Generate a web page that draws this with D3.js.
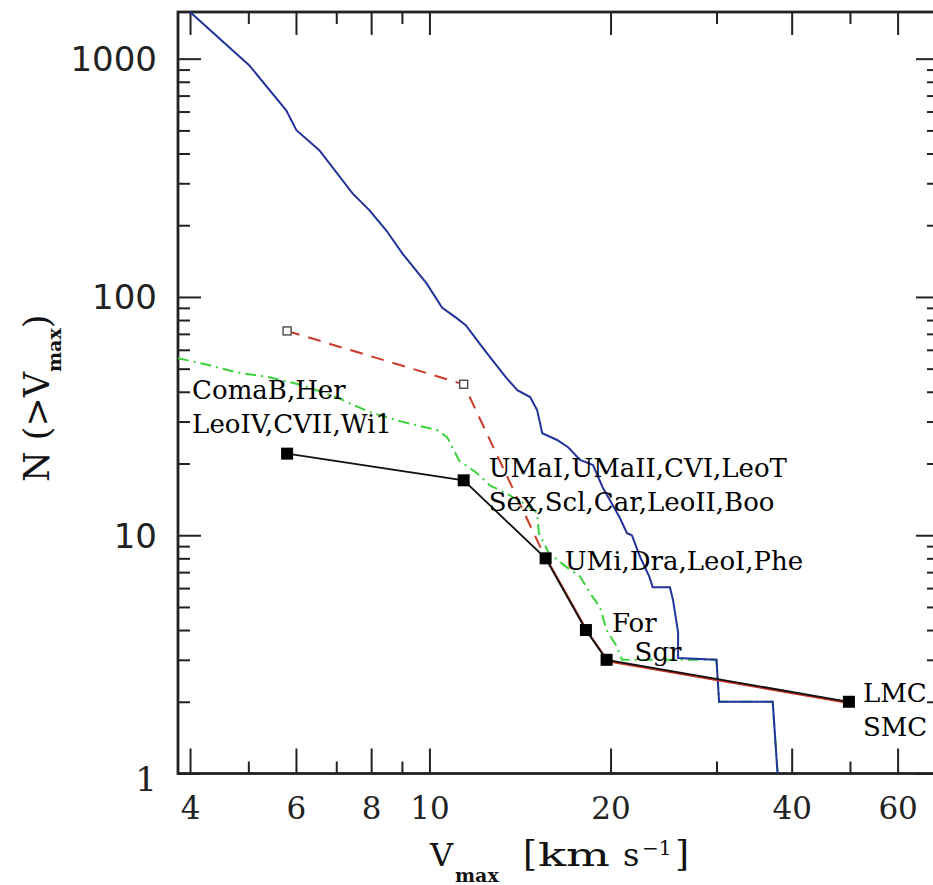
<!DOCTYPE html>
<html>
<head>
<meta charset="utf-8">
<script src="https://cdn.jsdelivr.net/npm/d3@7"></script>
<style>
  body { margin: 0; background: #fff; }
  svg { display: block; }
  .axis path { display: none; }
  .axis line { stroke: #222; stroke-width: 2; }
  .axis text { fill: #222; }
</style>
</head>
<body>
<script>
// simulated subhalo counts (blue, solid)
var simV = [4.0, 5.02, 5.78, 6.01, 6.56, 7.45, 7.95, 8.48, 9.02, 9.89, 10.5, 11.1, 11.5, 12.1, 12.6,
            13.4, 14.0, 14.7, 15.1, 15.4, 16.3, 17.0, 17.8, 18.7, 19.4, 20.7, 21.3, 21.7, 22.4, 23.2,
            23.5, 25.1, 25.4, 25.9, 25.9, 30.0, 30.3, 37.2, 37.9];
var simN = [1570, 937, 607, 501, 413, 272, 231, 190, 152, 114, 90, 81.5, 76, 64, 56,
            46, 40.6, 38, 33.5, 26.8, 25.1, 23.4, 20.7, 19.7, 15.9, 11.9, 10.2, 10, 8.1, 6.7,
            6.05, 6.05, 5.35, 3.9, 3.05, 3.0, 2.0, 2.0, 1.0];

// subhalos after selection (green, dash-dot)
var selV = [3.82, 4.31, 4.77, 5.42, 6.15, 7.0, 7.94, 9.02, 10.3, 10.7, 11.2, 12.0, 12.6, 13.4,
            14.1, 14.7, 15.1, 15.2, 15.8, 16.9, 17.8, 18.5, 19.2, 19.7, 20.5, 20.9, 30.0, 30.3, 37.2, 37.9];
var selN = [55.3, 51.7, 48.3, 46.0, 42.6, 38.0, 32.9, 29.9, 27.6, 25.8, 20.6, 18.2, 16.2, 15.0,
            14.0, 13.1, 12.4, 10.2, 8.4, 7.35, 6.7, 5.7, 5.0, 4.0, 3.4, 3.0, 3.0, 2.0, 2.0, 1.0];

// observed satellites (black squares) and corrected counts (red, dashed)
var obsV = [5.8, 11.4, 15.6, 18.2, 19.7, 49.8];
var obsN = [22, 17, 8, 4, 3, 2];
var corrN = [72, 43, 8, 4, 3, 2];
var obsLabels = [
    ["ComaB,Her", "LeoIV,CVII,Wi1"],
    ["UMaI,UMaII,CVI,LeoT", "Sex,Scl,Car,LeoII,Boo"],
    ["UMi,Dra,LeoI,Phe"],
    ["For"],
    ["Sgr"],
    ["LMC", "SMC"]
];

var xMajor = [4, 6, 8, 10, 20, 40, 60];
var xMinor = [5, 7, 9, 30, 50];
var yMajor = [1, 10, 100, 1000];

var width = 933, height = 885;
var x0 = 178, x1 = 939, y0 = 12, y1 = 773.5;

var svg = d3.select("body").append("svg")
    .attr("width", width)
    .attr("height", height);

var x = d3.scaleLog().domain([3.82, 70.3]).range([x0, x1]);
var y = d3.scaleLog().domain([1, 1570]).range([y1, y0]);

var yMinor = [];
[1, 10, 100, 1000].forEach(function(d) {
    for (var k = 2; k <= 9; k++) yMinor.push(d * k);
});
yMinor = yMinor.filter(function(d) { return d < 1570; });

svg.append("defs").append("clipPath").attr("id", "clip")
  .append("rect")
    .attr("x", x0).attr("y", y0)
    .attr("width", x1 - x0).attr("height", y1 - y0);

// axes: ticks point inward
function axisGroup(axis, tx, ty) {
    return svg.append("g")
        .attr("class", "axis")
        .attr("transform", "translate(" + tx + "," + ty + ")")
        .call(axis);
}

axisGroup(d3.axisBottom(x).tickValues(xMajor).tickSize(-25).tickPadding(23)
    .tickFormat(d3.format("d")), 0, y1)
    .selectAll("text")
    .attr("font-family", "DejaVu Serif")
    .attr("font-size", 31);
axisGroup(d3.axisBottom(x).tickValues(xMinor).tickSize(-12).tickFormat(""), 0, y1);
axisGroup(d3.axisTop(x).tickValues(xMajor).tickSize(-23).tickFormat(""), 0, y0);
axisGroup(d3.axisTop(x).tickValues(xMinor).tickSize(-12).tickFormat(""), 0, y0);

axisGroup(d3.axisLeft(y).tickValues(yMajor).tickSize(-23).tickPadding(21)
    .tickFormat(d3.format("d")), x0, 0)
    .selectAll("text")
    .attr("font-family", function(d) { return d === 1 ? "DejaVu Serif" : "DejaVu Sans"; })
    .attr("font-size", 34)
    .attr("dy", function(d) { return d === 1 ? "0.5em" : "0.35em"; });
axisGroup(d3.axisLeft(y).tickValues(yMinor).tickSize(-12).tickFormat(""), x0, 0);
axisGroup(d3.axisRight(y).tickValues(yMajor).tickSize(-23).tickFormat(""), x1, 0);
axisGroup(d3.axisRight(y).tickValues(yMinor).tickSize(-12).tickFormat(""), x1, 0);

// frame
svg.append("rect")
    .attr("x", x0).attr("y", y0)
    .attr("width", x1 - x0).attr("height", y1 - y0)
    .attr("fill", "none")
    .attr("stroke", "#222")
    .attr("stroke-width", 2.8);

var line = d3.line()
    .x(function(d) { return x(d[0]); })
    .y(function(d) { return y(d[1]); });

var plot = svg.append("g").attr("clip-path", "url(#clip)");

var sim = simV.map(function(v, i) { return [v, simN[i]]; });
var sel = selV.map(function(v, i) { return [v, selN[i]]; });
var obs = obsV.map(function(v, i) { return [v, obsN[i]]; });
var corr = obsV.map(function(v, i) { return [v, corrN[i]]; });

plot.append("path")
    .datum(sel)
    .attr("d", line)
    .attr("fill", "none")
    .attr("stroke", "#3ad23a")
    .attr("stroke-width", 2)
    .attr("stroke-dasharray", "11,5,2,5");

plot.append("path")
    .datum(sim)
    .attr("d", line)
    .attr("fill", "none")
    .attr("stroke", "#23339c")
    .attr("stroke-width", 2);

plot.append("path")
    .datum(corr.slice(0, 3))
    .attr("d", line)
    .attr("fill", "none")
    .attr("stroke", "#cc3a2a")
    .attr("stroke-width", 2)
    .attr("stroke-dasharray", "13,9");

// where corrected and observed coincide the red shows next to the black
plot.append("path")
    .datum(corr.slice(2))
    .attr("d", line)
    .attr("transform", "translate(1.5,1.5)")
    .attr("fill", "none")
    .attr("stroke", "#c8301e")
    .attr("stroke-width", 2);

plot.append("path")
    .datum(obs)
    .attr("d", line)
    .attr("fill", "none")
    .attr("stroke", "#111")
    .attr("stroke-width", 1.8);

// open squares where the correction differs
plot.selectAll(".open")
    .data(corr.filter(function(d, i) { return d[1] !== obsN[i]; }))
    .enter().append("rect")
    .attr("class", "open")
    .attr("x", function(d) { return x(d[0]) - 4; })
    .attr("y", function(d) { return y(d[1]) - 4; })
    .attr("width", 8).attr("height", 8)
    .attr("fill", "#fff")
    .attr("stroke", "#555")
    .attr("stroke-width", 1.5);

plot.selectAll(".dot")
    .data(obs)
    .enter().append("rect")
    .attr("class", "dot")
    .attr("x", function(d) { return x(d[0]) - 6; })
    .attr("y", function(d) { return y(d[1]) - 6; })
    .attr("width", 12).attr("height", 12)
    .attr("fill", "#000");

// label offsets from each observed point, in pixels
var labelOffset = [[-95, -55], [25, -3], [19, 12], [26, 2], [28, 1], [14, 0]];
var lineGap = 34;

obs.forEach(function(d, i) {
    var t = svg.append("text")
        .attr("font-family", "DejaVu Serif")
        .attr("font-size", 26)
        .attr("fill", "#000")
        .attr("x", x(d[0]) + labelOffset[i][0])
        .attr("y", y(d[1]) + labelOffset[i][1]);
    obsLabels[i].forEach(function(s, j) {
        t.append("tspan")
            .attr("x", x(d[0]) + labelOffset[i][0])
            .attr("dy", j === 0 ? 0 : lineGap)
            .text(s);
    });
});

// axis titles
var xt = svg.append("text")
    .attr("font-family", "DejaVu Serif")
    .attr("font-size", 32)
    .attr("fill", "#111")
    .attr("y", 866);
xt.append("tspan").attr("x", 430).text("V");
xt.append("tspan").attr("x", 455).attr("font-size", 19).attr("font-weight", "bold").attr("dy", 16).text("max");
xt.append("tspan").attr("x", 523).attr("dy", -16).attr("font-size", 36).text("[");
xt.append("tspan").attr("x", 538).attr("textLength", 72).attr("lengthAdjust", "spacingAndGlyphs").text("km");
xt.append("tspan").attr("x", 623).text("s");
xt.append("tspan").attr("x", 642).attr("font-size", 20).attr("dy", -11).text("\u22121");
xt.append("tspan").attr("x", 675).attr("font-size", 36).attr("dy", 11).text("]");

var yt = svg.append("text")
    .attr("font-family", "DejaVu Serif")
    .attr("font-size", 35)
    .attr("fill", "#111")
    .attr("transform", "translate(49,482) rotate(-90)");
yt.append("tspan").text("N (>V");
yt.append("tspan").attr("font-size", 19).attr("font-weight", "bold").attr("dy", 12).text("max");
yt.append("tspan").attr("dy", -12).text(")");
</script>
</body>
</html>
